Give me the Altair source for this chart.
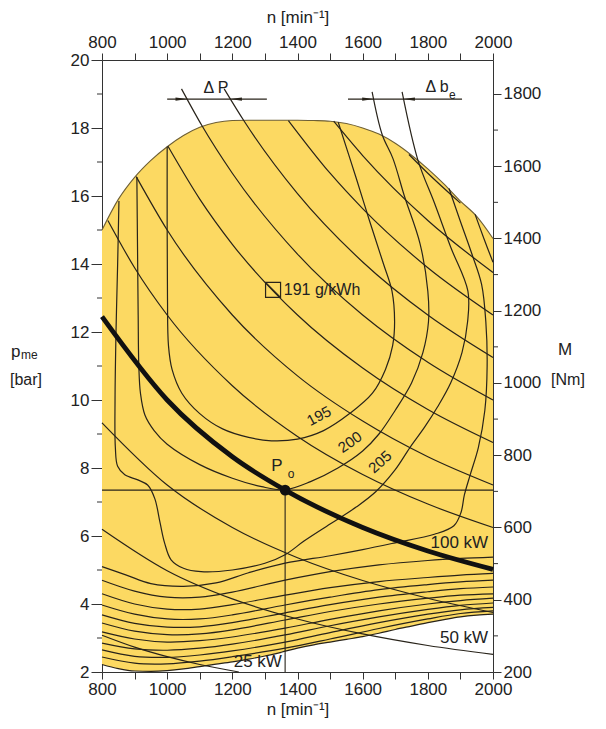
import altair as alt
import pandas as pd

# ---------------- values ----------------
# envelope of the map: full-load curve (top) and lower edge of the coloured field
EDGE_N = [800, 850, 900, 950, 1000, 1050, 1100, 1150, 1200, 1250, 1300, 1350, 1400,
          1450, 1500, 1550, 1600, 1650, 1700, 1750, 1800, 1850, 1900, 1950, 2000]
FULL_LOAD_P = [15.0, 15.9, 16.55, 17.05, 17.45, 17.78, 18.02, 18.16, 18.22, 18.23, 18.23, 18.23, 18.23,
               18.22, 18.2, 18.13, 18.0, 17.82, 17.55, 17.2, 16.8, 16.35, 15.85, 15.4, 14.75]
LOWER_EDGE_P = [2.22, 2.1, 2.03, 2.02, 2.04, 2.09, 2.16, 2.23, 2.3, 2.38, 2.47, 2.58, 2.7,
                2.8, 2.88, 2.96, 3.04, 3.14, 3.25, 3.35, 3.45, 3.54, 3.62, 3.67, 3.7]

# constant-power lines (kW)
PWR_25_N = [800, 900, 1000, 1100, 1220]
PWR_25_P = [3.08, 2.73, 2.45, 2.22, 2.0]
PWR_50_N = [800, 1000, 1200, 1400, 1600, 1800, 2000]
PWR_50_P = [6.2, 4.98, 4.15, 3.56, 3.12, 2.78, 2.52]
PWR_75_N = [800, 1000, 1200, 1400, 1600, 1800, 2000]
PWR_75_P = [9.33, 7.5, 6.25, 5.36, 4.69, 4.17, 3.75]
PWR_100_N = [800, 1000, 1200, 1362, 1600, 1800, 2000]
PWR_100_P = [12.45, 10.0, 8.33, 7.35, 6.25, 5.56, 5.02]
PWR_125_N = [818, 900, 1000, 1200, 1400, 1600, 1800, 2000]
PWR_125_P = [15.28, 13.89, 12.5, 10.42, 8.93, 7.81, 6.94, 6.25]
PWR_150_N = [905, 1000, 1200, 1400, 1600, 1800, 2000]
PWR_150_P = [16.57, 15.0, 12.5, 10.71, 9.38, 8.33, 7.5]
PWR_175_N = [1002, 1100, 1200, 1400, 1600, 1800, 2000]
PWR_175_P = [17.47, 15.91, 14.58, 12.5, 10.94, 9.72, 8.75]
PWR_200_N = [1044, 1106, 1200, 1400, 1600, 1800, 2000]
PWR_200_P = [19.15, 18.08, 16.67, 14.29, 12.5, 11.11, 10.0]
PWR_225_N = [1175, 1237, 1400, 1600, 1800, 2000]
PWR_225_P = [19.15, 18.19, 16.07, 14.06, 12.5, 11.25]
PWR_250_N = [1372, 1500, 1600, 1800, 2000]
PWR_250_P = [18.22, 16.67, 15.63, 13.89, 12.5]
PWR_275_N = [1511, 1600, 1800, 2000]
PWR_275_P = [18.2, 17.19, 15.28, 13.75]
PWR_300_N = [1742, 1800, 1900]
PWR_300_P = [17.22, 16.67, 15.79]

# specific fuel consumption contours b_e (g/kWh)
BE195_N = [1000, 1000, 1001, 1004, 1015, 1045, 1100, 1170, 1250, 1320, 1400, 1480, 1560, 1630,
           1670, 1692, 1698, 1690, 1664, 1620, 1581, 1525]
BE195_P = [17.45, 15.0, 13.0, 11.6, 10.9, 10.2, 9.6, 9.15, 8.9, 8.8, 8.85, 9.1, 9.6, 10.2,
           10.9, 11.6, 12.3, 13.2, 14.0, 15.3, 16.5, 18.17]
BE200_N = [907, 909, 911, 913, 918, 932, 960, 1000, 1100, 1200, 1290, 1362, 1440, 1524, 1600,
           1650, 1700, 1750, 1785, 1802, 1800, 1776, 1728, 1693, 1660, 1629]
BE200_P = [16.56, 14.5, 12.5, 11.0, 10.2, 9.55, 9.1, 8.7, 8.1, 7.7, 7.45, 7.36, 7.6, 8.0, 8.5,
           9.0, 9.7, 10.5, 11.4, 12.3, 13.2, 14.6, 16.0, 17.1, 17.8, 19.06]
BE205_N = [852, 848, 843, 840, 841, 848, 870, 910, 940, 962, 978, 992, 1012, 1050, 1104, 1200,
           1300, 1362, 1420, 1500, 1580, 1640, 1700, 1745, 1790, 1830, 1870, 1905, 1922, 1923,
           1870, 1820, 1770, 1721]
BE205_P = [15.85, 14.0, 12.0, 10.0, 8.6, 8.05, 7.8, 7.65, 7.5, 7.1, 6.4, 5.8, 5.3, 5.05, 4.95, 5.0,
           5.2, 5.45, 5.85, 6.35, 6.85, 7.3, 7.95, 8.6, 9.2, 9.8, 10.5, 11.4, 12.3, 13.2,
           14.5, 15.8, 17.04, 19.06]
BE210_N = [1865, 1900, 1935, 1965, 1978, 1982, 1975, 1955, 1930, 1912, 1902, 1880, 1820, 1700,
           1600, 1500, 1362, 1250, 1150, 1050, 950, 875, 800]
BE210_P = [16.22, 15.25, 14.3, 13.4, 12.3, 11.0, 9.7, 8.6, 7.8, 7.2, 6.7, 6.3, 6.05, 5.8,
           5.6, 5.42, 5.2, 4.92, 4.62, 4.52, 4.6, 4.85, 5.1]
BE215_N = [1945, 1972, 2000]
BE215_P = [15.46, 14.75, 14.05]

# lower bunch of b_e contours (part load)
LOW_N = [800, 900, 1000, 1100, 1200, 1362, 1500, 1650, 1800, 1900, 2000]
LOW_9 = [4.7, 4.38, 4.2, 4.2, 4.35, 4.7, 4.95, 5.15, 5.28, 5.34, 5.38]
LOW_8 = [4.3, 4.0, 3.85, 3.85, 3.98, 4.26, 4.48, 4.66, 4.78, 4.85, 4.9]
LOW_7 = [3.97, 3.7, 3.56, 3.56, 3.68, 3.97, 4.2, 4.42, 4.57, 4.65, 4.7]
LOW_6 = [3.68, 3.43, 3.32, 3.33, 3.45, 3.74, 3.98, 4.2, 4.36, 4.45, 4.5]
LOW_5 = [3.44, 3.2, 3.1, 3.12, 3.24, 3.53, 3.78, 4.0, 4.17, 4.26, 4.3]
LOW_4 = [3.18, 2.97, 2.88, 2.92, 3.03, 3.29, 3.55, 3.8, 4.0, 4.1, 4.17]
LOW_3 = [2.85, 2.68, 2.64, 2.7, 2.82, 3.09, 3.36, 3.62, 3.84, 3.96, 4.03]
LOW_2 = [2.65, 2.46, 2.43, 2.5, 2.62, 2.88, 3.16, 3.45, 3.7, 3.83, 3.9]
LOW_1 = [2.44, 2.26, 2.24, 2.32, 2.45, 2.7, 2.97, 3.28, 3.56, 3.72, 3.8]

# operating point P0
P0_N = 1362
P0_P = 7.35

# axes
N_TICKS = list(range(800, 2001, 100))
P_MAJOR = list(range(2, 21, 2))
P_MINOR = list(range(3, 20, 2))
M_MAJOR = list(range(200, 1801, 200))
M_MINOR = list(range(300, 1800, 200))
M_AT_P2, M_AT_P20 = 200, 1894      # torque at the bottom / top of the frame


def m_to_p(m):
    # position of a torque tick on the p_me scale (axis conversion only)
    return 2 + (m - M_AT_P2) * 18 / (M_AT_P20 - M_AT_P2)


# ---------------- styling ----------------
YELLOW = "#FCD962"
INK = "#28231a"
AX = "#333333"
TXT = "#222222"
FONT = "Liberation Sans"
W, H = 391, 612

xs = alt.Scale(domain=[800, 2000], nice=False, zero=False)
ys = alt.Scale(domain=[2, 20], nice=False, zero=False)

DUMMY = pd.DataFrame({"k": [0]})


def X(f="n"):
    return alt.X(f"{f}:Q", scale=xs, axis=None)


def Y(f="p"):
    return alt.Y(f"{f}:Q", scale=ys, axis=None)


def XD(v):
    return alt.XDatum(v, scale=xs, axis=None)


def YD(v):
    return alt.YDatum(v, scale=ys, axis=None)


common_axis = dict(labelFont=FONT, labelFontSize=17, labelColor=TXT, domainColor=AX, tickColor=AX,
                   domainWidth=1, tickWidth=1, grid=False, labelOverlap=False, titleFont=FONT,
                   titleFontSize=17, titleFontWeight="normal", titleColor=TXT)

N_LABEL = "datum.value % 200 == 0 ? format(datum.value, 'd') : ''"
x_bottom = alt.Axis(orient="bottom", values=N_TICKS, tickSize=7, labelPadding=2,
                    labelExpr=N_LABEL, labelFlush=False,
                    title="n [min⁻¹]", titlePadding=4, **common_axis)
x_top = alt.Axis(orient="top", values=N_TICKS, tickSize=7, labelPadding=2,
                 labelExpr=N_LABEL, labelFlush=False,
                 title="n [min⁻¹]", titlePadding=7, **common_axis)
y_left = alt.Axis(orient="left", values=P_MAJOR, tickSize=11, labelPadding=2,
                  labelExpr="format(datum.value, 'd')", title=None, **common_axis)
y_right = alt.Axis(orient="right", values=[m_to_p(m) for m in M_MAJOR], tickSize=8, labelPadding=2,
                   labelExpr=f"format(round((datum.value - 2) * {M_AT_P20 - M_AT_P2} / 18 + {M_AT_P2}), 'd')",
                   title=None, **common_axis)

# ---------------- tables ----------------
edge_df = pd.DataFrame({"n": EDGE_N, "upper": FULL_LOAD_P, "lower": LOWER_EDGE_P})

hyp_sets = [(25, PWR_25_N, PWR_25_P), (50, PWR_50_N, PWR_50_P), (75, PWR_75_N, PWR_75_P),
            (125, PWR_125_N, PWR_125_P), (150, PWR_150_N, PWR_150_P), (175, PWR_175_N, PWR_175_P),
            (200, PWR_200_N, PWR_200_P), (225, PWR_225_N, PWR_225_P), (250, PWR_250_N, PWR_250_P),
            (275, PWR_275_N, PWR_275_P), (300, PWR_300_N, PWR_300_P)]
hyp_df = pd.DataFrame([{"P": P, "n": n, "p": p, "i": i}
                       for P, ns, ps in hyp_sets for i, (n, p) in enumerate(zip(ns, ps))])
bold_df = pd.DataFrame({"n": PWR_100_N, "p": PWR_100_P})

cont_sets = [("195", BE195_N, BE195_P), ("200", BE200_N, BE200_P), ("205", BE205_N, BE205_P),
             ("210", BE210_N, BE210_P), ("215", BE215_N, BE215_P)]
for k, lst in enumerate([LOW_9, LOW_8, LOW_7, LOW_6, LOW_5, LOW_4, LOW_3, LOW_2, LOW_1]):
    cont_sets.append((f"low{k}", LOW_N, lst))
cont_df = pd.DataFrame([{"c": c, "n": n, "p": p, "i": i}
                        for c, ns, ps in cont_sets for i, (n, p) in enumerate(zip(ns, ps))])

frame_df = pd.DataFrame({"n": [800, 2000], "p": [2, 20]})

# ---------------- layers ----------------
axis_a = alt.Chart(frame_df).mark_point(opacity=0).encode(
    x=alt.X("n:Q", scale=xs, axis=x_bottom), y=alt.Y("p:Q", scale=ys, axis=y_left))
axis_b = alt.Chart(frame_df).mark_point(opacity=0).encode(
    x=alt.X("n:Q", scale=xs, axis=x_top), y=alt.Y("p:Q", scale=ys, axis=y_right))

area = alt.Chart(edge_df).mark_area(color=YELLOW, interpolate="monotone").encode(
    x=X(), y=Y("upper"), y2="lower:Q")
edge_top = alt.Chart(edge_df).mark_line(color="#6e5f35", strokeWidth=1.1, interpolate="monotone").encode(
    x=X(), y=Y("upper"))
edge_low = alt.Chart(edge_df).mark_line(color=INK, strokeWidth=1.2, interpolate="monotone").encode(
    x=X(), y=Y("lower"))

hyp = alt.Chart(hyp_df).mark_line(color=INK, strokeWidth=1.2, interpolate="monotone").encode(
    x=X(), y=Y(), detail="P:N", order="i:Q")
bold = alt.Chart(bold_df).mark_line(color="#111111", strokeWidth=4.8, interpolate="monotone").encode(
    x=X(), y=Y())
cont = alt.Chart(cont_df).mark_line(color=INK, strokeWidth=1.2, interpolate="catmull-rom").encode(
    x=X(), y=Y(), detail="c:N", order="i:Q")

hline = alt.Chart(DUMMY).mark_rule(color=INK, strokeWidth=1.1).encode(
    x=XD(800), x2=alt.X2Datum(2000), y=YD(P0_P))
vline = alt.Chart(DUMMY).mark_rule(color=INK, strokeWidth=1.1).encode(
    x=XD(P0_N), y=YD(2), y2=alt.Y2Datum(P0_P))
p0 = alt.Chart(DUMMY).mark_circle(size=115, color="#111111", opacity=1).encode(x=XD(P0_N), y=YD(P0_P))

# Delta-P and Delta-b_e dimension arrows
dim_p = alt.Chart(DUMMY).mark_rule(color=INK, strokeWidth=1.1).encode(
    x=XD(1000), x2=alt.X2Datum(1306), y=YD(18.85))
dim_b = alt.Chart(DUMMY).mark_rule(color=INK, strokeWidth=1.1).encode(
    x=XD(1555), x2=alt.X2Datum(1905), y=YD(18.85))
ARROW_R = "M-1,-0.28L1,0L-1,0.28Z"
ARROW_L = "M1,-0.28L-1,0L1,0.28Z"


def arrow(shape, n):
    return alt.Chart(DUMMY).mark_point(shape=shape, size=144, filled=True, color=INK, opacity=1,
                                       strokeWidth=0).encode(x=XD(n), y=YD(18.85))


arrows = [arrow(ARROW_R, 1044), arrow(ARROW_L, 1211), arrow(ARROW_R, 1617), arrow(ARROW_L, 1742)]

box = alt.Chart(DUMMY).mark_point(shape="M-1,-1L1,-1L1,1L-1,1Z M-1,-1L1,1", size=225, filled=False,
                                  color=INK, strokeWidth=1.2, opacity=1).encode(x=XD(1325), y=YD(13.24))


def label(text, n, p, size=17, angle=0, align="center"):
    return alt.Chart(DUMMY).mark_text(text=text, font=FONT, fontSize=size, angle=angle, align=align,
                                      baseline="middle", color=TXT).encode(x=XD(n), y=YD(p))


def plabel(text, x, y, size=17, align="center"):
    return alt.Chart(DUMMY).mark_text(text=text, font=FONT, fontSize=size, align=align,
                                      baseline="middle", color=TXT).encode(x=alt.value(x), y=alt.value(y))


texts = [
    label("191 g/kWh", 1358, 13.24, size=16, align="left"),
    label("195", 1466, 9.53, size=15, angle=332),
    label("200", 1561, 8.76, size=15, angle=325),
    label("205", 1653, 8.18, size=15, angle=318),
    label("P", 1337, 8.06, size=17),
    label("o", 1380, 7.82, size=12),
    label("100 kW", 1985, 5.79, size=17, align="right"),
    label("50 kW", 1985, 3.0, size=17, align="right"),
    label("25 kW", 1352, 2.29, size=17, align="right"),
    label("Δ P", 1150, 19.18, size=16),
    label("Δ b", 1828, 19.2, size=16),
    label("e", 1875, 18.98, size=12),
    plabel("p", -91, 292, size=17, align="left"),
    plabel("me", -81, 295, size=12, align="left"),
    plabel("[bar]", -76, 320, size=16),
    plabel("M", 463, 290, size=17),
    plabel("[Nm]", 466, 320, size=16),
]

minor_left = alt.Chart(pd.DataFrame({"p": P_MINOR})).mark_rule(color=AX, strokeWidth=1).encode(
    y=Y(), x=alt.value(-5), x2=alt.value(0))
minor_right = alt.Chart(pd.DataFrame({"p": [m_to_p(m) for m in M_MINOR]})).mark_rule(
    color=AX, strokeWidth=1).encode(y=Y(), x=alt.value(W), x2=alt.value(W + 5))

chart = alt.layer(
    area, edge_top, edge_low, hyp, cont, bold, hline, vline, p0, dim_p, dim_b,
    *arrows, box, *texts, minor_left, minor_right, axis_a, axis_b,
).resolve_axis(x="independent", y="independent").properties(
    width=W, height=H,
    autosize=alt.AutoSizeParams(type="none"),
    padding={"left": 94, "top": 52, "right": 105, "bottom": 49},
).configure_view(strokeWidth=0)

chart.save("out.html", embed_options={"renderer": "svg", "actions": False})
